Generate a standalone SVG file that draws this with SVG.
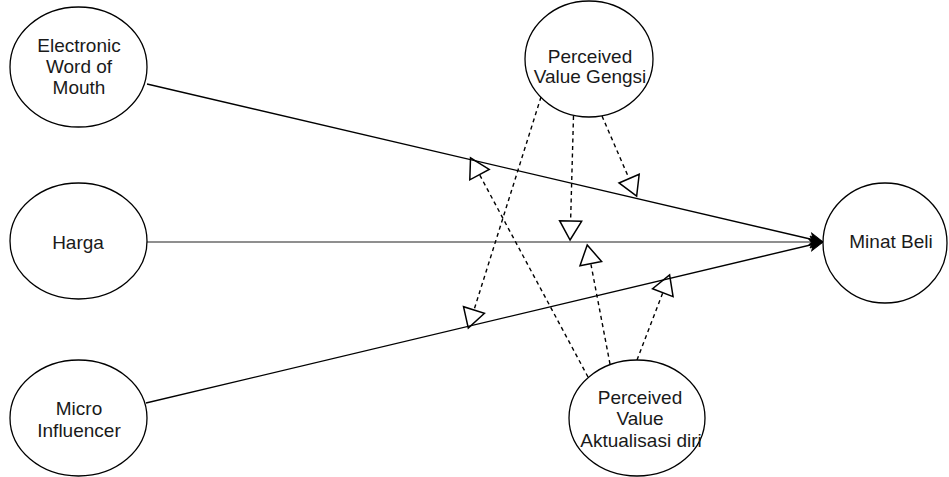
<svg xmlns="http://www.w3.org/2000/svg" width="949" height="477" viewBox="0 0 949 477">
<style>
.node ellipse{fill:#fff;stroke:#000;stroke-width:1.3}
.node text{font-family:"Liberation Sans",Arial,sans-serif;font-size:19px;fill:#1a1a1a;text-anchor:middle}
.solid{stroke:#000;stroke-width:1.3;fill:none}
.gray{stroke:#6a6a6a;stroke-width:1.6;fill:none}
.dash{stroke:#000;stroke-width:1.4;fill:none;stroke-dasharray:4 3.5}
</style>
<defs>
<marker id="fill" markerUnits="userSpaceOnUse" markerWidth="16" markerHeight="14" refX="14" refY="7" orient="auto" overflow="visible">
<path d="M1,1 L14,7 L1,13 L4,7 Z" fill="#000" stroke="#000" stroke-width="1"/>
</marker>
<marker id="open" markerUnits="userSpaceOnUse" markerWidth="22" markerHeight="24" refX="1" refY="12" orient="auto" overflow="visible">
<path d="M1,1 L20,12 L1,23 Z" fill="none" stroke="#000" stroke-width="1.5"/>
</marker>
</defs>
<g id="connectors">
<path class="solid" d="M147,84 L823,242" marker-end="url(#fill)"/>
<path class="gray" d="M147,242 L823,242" marker-end="url(#fill)"/>
<path class="solid" d="M146,403 L823,242" marker-end="url(#fill)"/>
<path class="dash" d="M541,97 L474,310" marker-end="url(#open)"/>
<path class="dash" d="M573.5,116 L570.6,221" marker-end="url(#open)"/>
<path class="dash" d="M602,116 L629.1,178.6" marker-end="url(#open)"/>
<path class="dash" d="M588,377 L479.5,174.6" marker-end="url(#open)"/>
<path class="dash" d="M610,364 L590.8,263.6" marker-end="url(#open)"/>
<path class="dash" d="M637,360 L662.8,292.7" marker-end="url(#open)"/>
</g>
<g id="ewom" class="node">
<ellipse cx="78.5" cy="67" rx="68.5" ry="60"/>
<text x="79" y="52">Electronic</text>
<text x="79" y="73">Word of</text>
<text x="79" y="94">Mouth</text>
</g>
<g id="harga" class="node">
<ellipse cx="78.5" cy="241" rx="68.5" ry="58"/>
<text x="78" y="249">Harga</text>
</g>
<g id="micro" class="node">
<ellipse cx="78.5" cy="418" rx="68.5" ry="58"/>
<text x="79" y="415">Micro</text>
<text x="79" y="437">Influencer</text>
</g>
<g id="gengsi" class="node">
<ellipse cx="589" cy="59" rx="64" ry="58"/>
<text x="590" y="63">Perceived</text>
<text x="590" y="83">Value Gengsi</text>
</g>
<g id="aktualisasi" class="node">
<ellipse cx="637" cy="418" rx="68" ry="58"/>
<text x="640" y="404">Perceived</text>
<text x="640" y="425">Value</text>
<text x="641" y="447">Aktualisasi diri</text>
</g>
<g id="minat" class="node">
<ellipse cx="885" cy="243" rx="62" ry="60"/>
<text x="891" y="248">Minat Beli</text>
</g>
</svg>
